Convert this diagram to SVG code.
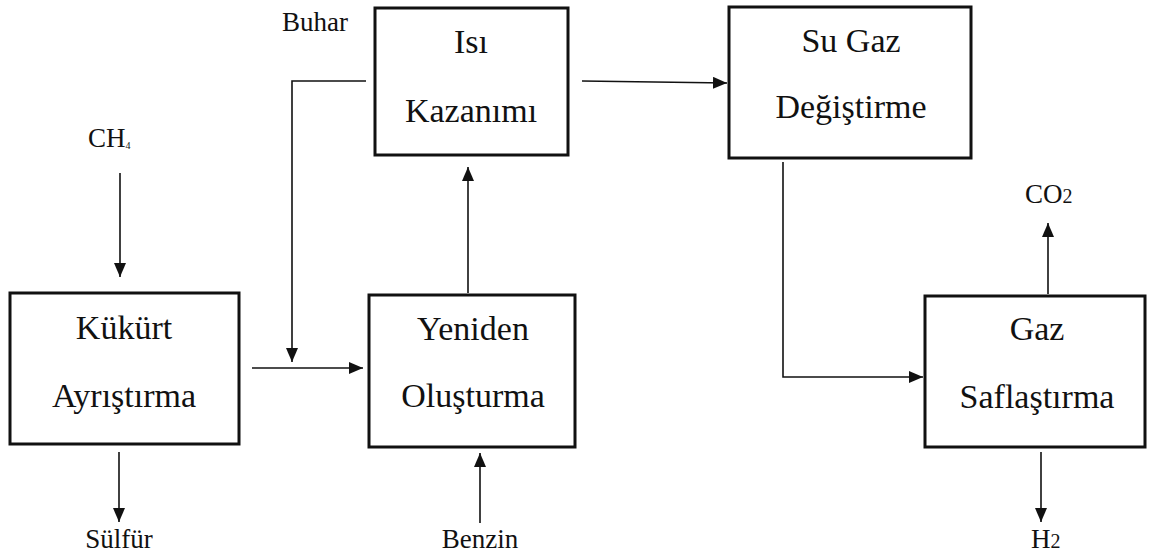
<svg xmlns="http://www.w3.org/2000/svg" width="1153" height="555" viewBox="0 0 1153 555">
<style>
.box{fill:#fff;stroke:#111;stroke-width:3}
.bt{font-family:'Liberation Serif','DejaVu Serif',serif;font-size:34px;fill:#111;text-anchor:middle}
.lb{font-family:'Liberation Serif','DejaVu Serif',serif;font-size:27px;fill:#111}
.c{fill:none;stroke:#111;stroke-width:1.6}
</style>
<defs>
<marker id="ah" viewBox="0 0 14 12" refX="14" refY="6" markerWidth="14" markerHeight="12" markerUnits="userSpaceOnUse" orient="auto">
<path d="M0,0 L14,6 L0,12 z" fill="#111"/>
</marker>
</defs>
<rect width="1153" height="555" fill="#fff"/>
<g id="connectors">
<path class="c" d="M366,81 H292 V362" marker-end="url(#ah)"/>
<path class="c" d="M120,173 V277" marker-end="url(#ah)"/>
<path class="c" d="M252,368 H363" marker-end="url(#ah)"/>
<path class="c" d="M468,293 V167" marker-end="url(#ah)"/>
<path class="c" d="M480,523 V453" marker-end="url(#ah)"/>
<path class="c" d="M119,452 V522" marker-end="url(#ah)"/>
<path class="c" d="M582,81 L727,83" marker-end="url(#ah)"/>
<path class="c" d="M783,162 V377 H923" marker-end="url(#ah)"/>
<path class="c" d="M1048,294 V223" marker-end="url(#ah)"/>
<path class="c" d="M1041,452 V522" marker-end="url(#ah)"/>
</g>
<g id="isi-kazanimi">
<rect class="box" x="375" y="8" width="193" height="147"/>
<text class="bt" x="471" y="53">Isı</text>
<text class="bt" x="471" y="122">Kazanımı</text>
</g>
<g id="su-gaz">
<rect class="box" x="729" y="7" width="242" height="151"/>
<text class="bt" x="851" y="52">Su Gaz</text>
<text class="bt" x="851" y="118">Değiştirme</text>
</g>
<g id="kukurt">
<rect class="box" x="10" y="293" width="229" height="151"/>
<text class="bt" x="124" y="339">Kükürt</text>
<text class="bt" x="124" y="407">Ayrıştırma</text>
</g>
<g id="yeniden">
<rect class="box" x="369" y="295" width="206" height="152"/>
<text class="bt" x="473" y="340">Yeniden</text>
<text class="bt" x="473" y="407">Oluşturma</text>
</g>
<g id="gaz-saflastirma">
<rect class="box" x="925" y="296" width="220" height="151"/>
<text class="bt" x="1037" y="340">Gaz</text>
<text class="bt" x="1037" y="408">Saflaştırma</text>
</g>
<g id="labels">
<text class="lb" x="282" y="31">Buhar</text>
<text class="lb" x="88" y="147">CH<tspan font-size="10" dy="2">4</tspan></text>
<text class="lb" x="119" y="548" text-anchor="middle">Sülfür</text>
<text class="lb" x="480" y="548" text-anchor="middle">Benzin</text>
<text class="lb" x="1025" y="203">CO<tspan font-size="20">2</tspan></text>
<text class="lb" x="1031" y="548">H<tspan font-size="20">2</tspan></text>
</g>
</svg>
